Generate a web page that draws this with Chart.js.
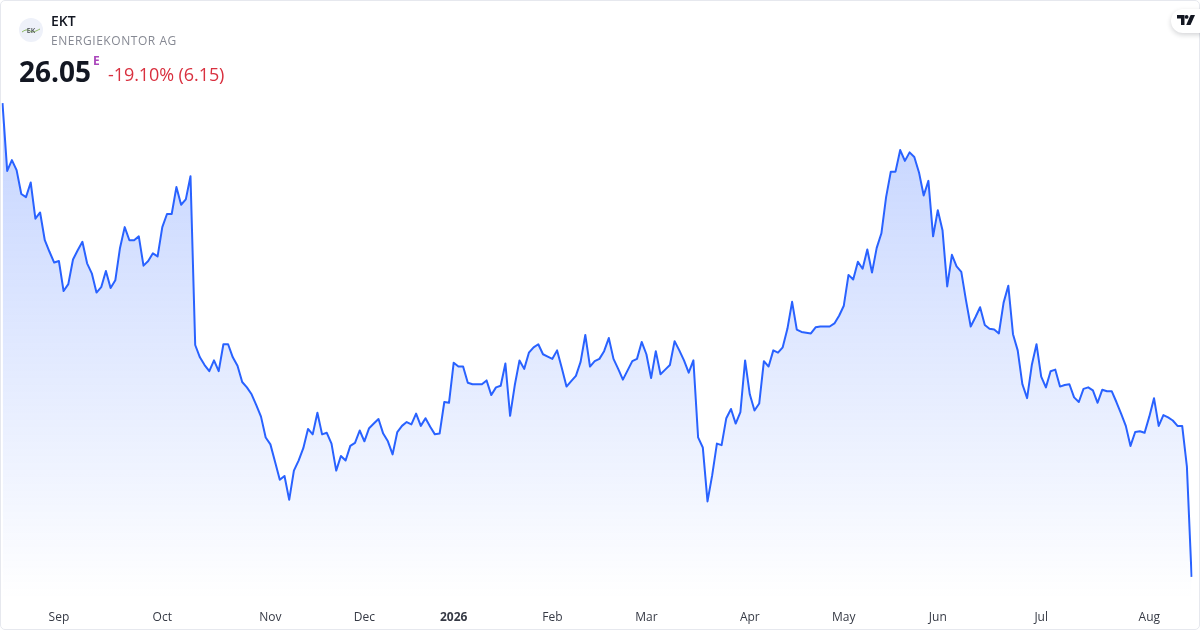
<!DOCTYPE html>
<html>
<head>
<meta charset="utf-8">
<title>EKT</title>
<script src="https://cdn.jsdelivr.net/npm/chart.js@4/dist/chart.umd.min.js"></script>
<style>
  html, body { margin: 0; padding: 0; background: #fff; }
  #wrap { position: relative; width: 1200px; height: 630px; overflow: hidden; font-family: "Open Sans", sans-serif; }
  #frame { position: absolute; left: 0; top: 0; width: 1198px; height: 628px; border: 1px solid #e6e8ee; border-radius: 5px; pointer-events: none; }
  #priceChart { position: absolute; left: 0; top: 0; }
  .txt { position: absolute; white-space: nowrap; }
  #symbol { left: 51px; top: 12px; font-size: 14px; line-height: 18px; font-weight: 600; color: #131722; }
  #company { left: 51px; top: 32px; font-size: 12px; line-height: 17px; letter-spacing: 0.55px; color: #868993; }
  #last { left: 19px; top: 52px; font-size: 28px; line-height: 38px; font-weight: 700; color: #131722; }
  #session { left: 93px; top: 53px; font-size: 12px; line-height: 16px; font-weight: 700; color: #ab47bc; }
  #change { left: 108px; top: 62px; font-size: 18px; line-height: 25px; letter-spacing: -0.08px; color: #d9303f; }
  #logo { position: absolute; left: 19px; top: 18px; }
  #tvBadge { position: absolute; left: 1171px; top: 9px; width: 40px; height: 24px; border-radius: 12px; background: #fff; box-shadow: 0 2px 5px rgba(19, 23, 34, 0.18); }
  #tvBadge svg { position: absolute; left: 6px; top: 6px; }
</style>
</head>
<body>
<div id="wrap">
  <canvas id="priceChart" width="1200" height="630"></canvas>
  <div id="frame"></div>
  <svg id="logo" width="24" height="24" viewBox="0 0 24 24">
    <circle cx="12" cy="12" r="12" fill="#eef1f9"/>
    <path d="M3 14 C6 12 8 11 11 13 C14 15 17 13 21 11" stroke="#7fb04f" stroke-width="0.9" fill="none"/>
    <text x="12" y="15" text-anchor="middle" font-family="Open Sans" font-size="7" font-weight="600" fill="#4a4f55">EK</text>
  </svg>
  <div class="txt" id="symbol">EKT</div>
  <div class="txt" id="company">ENERGIEKONTOR AG</div>
  <div class="txt" id="last">26.05</div>
  <div class="txt" id="session">E</div>
  <div class="txt" id="change">-19.10% (6.15)</div>
  <div id="tvBadge">
    <svg width="18" height="12" viewBox="0 0 18 12">
      <path d="M0 0H7.5V10H4V3.4H0Z" fill="#131722"/>
      <circle cx="9.6" cy="1.9" r="1.9" fill="#131722"/>
      <path d="M13.6 0H18L13.5 10H9.2Z" fill="#131722"/>
    </svg>
  </div>
</div>
<script>
// closing prices, one per session
const closes = [
  32.20, 31.32, 31.46, 31.33, 31.02, 30.98, 31.17, 30.70, 30.78, 30.42,
  30.27, 30.13, 30.15, 29.76, 29.85, 30.17, 30.29, 30.40, 30.12, 29.99,
  29.74, 29.81, 30.02, 29.80, 29.90, 30.32, 30.59, 30.42, 30.42, 30.47,
  30.09, 30.15, 30.25, 30.21, 30.59, 30.76, 30.76, 31.11, 30.88, 30.95,
  31.25, 29.06, 28.90, 28.80, 28.72, 28.86, 28.72, 29.07, 29.07, 28.90,
  28.79, 28.58, 28.51, 28.42, 28.28, 28.13, 27.86, 27.77, 27.54, 27.31,
  27.36, 27.05, 27.43, 27.56, 27.72, 27.97, 27.90, 28.18, 27.90, 27.92,
  27.78, 27.43, 27.62, 27.56, 27.75, 27.79, 27.95, 27.81, 27.98, 28.04,
  28.10, 27.91, 27.81, 27.64, 27.93, 28.01, 28.06, 28.03, 28.17, 28.01,
  28.11, 28.00, 27.90, 27.91, 28.32, 28.31, 28.83, 28.78, 28.78, 28.57,
  28.55, 28.55, 28.55, 28.60, 28.41, 28.51, 28.53, 28.82, 28.14, 28.54,
  28.86, 28.75, 28.96, 29.03, 29.07, 28.94, 28.91, 28.88, 28.99, 28.76,
  28.52, 28.59, 28.66, 28.84, 29.19, 28.78, 28.85, 28.88, 28.98, 29.15,
  28.88, 28.75, 28.61, 28.73, 28.85, 28.88, 29.10, 28.94, 28.63, 28.98,
  28.68, 28.74, 28.80, 29.11, 28.99, 28.86, 28.70, 28.86, 27.86, 27.73,
  27.03, 27.37, 27.78, 27.76, 28.11, 28.23, 28.04, 28.19, 28.86, 28.42,
  28.21, 28.30, 28.85, 28.78, 28.99, 28.96, 29.03, 29.27, 29.62, 29.26,
  29.23, 29.22, 29.21, 29.29, 29.30, 29.30, 29.30, 29.34, 29.44, 29.57,
  29.97, 29.91, 30.14, 30.05, 30.30, 30.00, 30.32, 30.51, 30.98, 31.31,
  31.31, 31.59, 31.45, 31.56, 31.50, 31.30, 31.00, 31.19, 30.47, 30.81,
  30.55, 29.82, 30.23, 30.08, 30.01, 29.64, 29.30, 29.42, 29.55, 29.32,
  29.27, 29.26, 29.21, 29.61, 29.83, 29.20, 28.99, 28.55, 28.37, 28.80,
  29.07, 28.65, 28.51, 28.72, 28.74, 28.52, 28.54, 28.55, 28.38, 28.32,
  28.49, 28.51, 28.47, 28.31, 28.48, 28.46, 28.46, 28.32, 28.17, 28.01,
  27.75, 27.93, 27.94, 27.92, 28.13, 28.37, 28.01, 28.15, 28.12, 28.08,
  28.01, 28.01, 27.48, 26.05
];

// month labels and the session each one sits on
const tickLabels = ["Sep", "Oct", "Nov", "Dec", "2026", "Feb", "Mar", "Apr", "May", "Jun", "Jul", "Aug"];
const tickSessions = [12, 34, 57, 77, 96, 117, 137, 159, 179, 199, 221, 244];

const sessions = closes.map(function(c, i) { return i; });

const ctx = document.getElementById("priceChart").getContext("2d");

function areaGradient(context) {
  const area = context.chart.chartArea;
  if (!area) {
    return "rgba(41, 98, 255, 0.28)";
  }
  const grad = context.chart.ctx.createLinearGradient(0, area.top, 0, area.bottom);
  grad.addColorStop(0, "rgba(41, 98, 255, 0.28)");
  grad.addColorStop(1, "rgba(41, 98, 255, 0)");
  return grad;
}

new Chart(ctx, {
  type: "line",
  data: {
    labels: sessions,
    datasets: [{
      data: closes,
      borderColor: "#2962ff",
      borderWidth: 2,
      borderJoinStyle: "round",
      borderCapStyle: "butt",
      pointRadius: 0,
      tension: 0,
      fill: "start",
      backgroundColor: areaGradient
    }]
  },
  options: {
    responsive: false,
    animation: false,
    layout: { padding: { left: 2.5, right: 8.4, top: 100, bottom: 0 } },
    plugins: { legend: { display: false }, tooltip: { enabled: false } },
    scales: {
      x: {
        type: "category",
        offset: false,
        border: { display: false },
        grid: { display: false, drawTicks: false },
        // tick padding otherwise eats into the plot width and height
        afterFit: function(scale) {
          scale.paddingLeft = 0;
          scale.paddingRight = 0;
          scale.height = 30;
        },
        ticks: {
          autoSkip: false,
          maxRotation: 0,
          minRotation: 0,
          padding: 10,
          color: "#363a45",
          font: function(c) {
            var isYear = c.tick && c.tick.label === "2026";
            return { family: "Open Sans", size: 12, lineHeight: 1.2, weight: isYear ? "700" : "400" };
          },
          callback: function(val, index) {
            var pos = tickSessions.indexOf(index);
            return pos >= 0 ? tickLabels[pos] : "";
          }
        }
      },
      y: {
        display: false,
        min: 25.75,
        max: 32.24
      }
    }
  }
});
</script>
</body>
</html>
